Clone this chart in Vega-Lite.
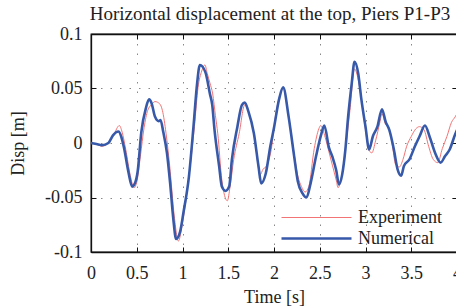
{
  "$schema": "https://vega.github.io/schema/vega-lite/v6.json",
  "width": 366,
  "height": 218,
  "autosize": "none",
  "padding": {"left": 91, "top": 34, "right": 0, "bottom": 56},
  "title": {"text": "Horizontal displacement at the top, Piers P1-P3", "font": "Liberation Serif", "fontSize": 19, "fontWeight": "normal", "color": "#222222", "anchor": "middle", "offset": 1, "dx": -4},
  "config": {
    "view": {"stroke": "#111111", "strokeWidth": 1.3},
    "font": "Liberation Serif",
    "axis": {
      "labelFont": "Liberation Serif", "labelFontSize": 18, "labelColor": "#222222",
      "titleFont": "Liberation Serif", "titleFontSize": 18, "titleFontWeight": "normal", "titleColor": "#222222",
      "domainColor": "#111111", "domainWidth": 1.3,
      "tickColor": "#111111", "tickSize": -5, "tickWidth": 1,
      "gridColor": "#888888", "gridDash": [1.5, 8], "gridWidth": 1
    }
  },
  "data": {"values": [
    {"t":0.00,"d":0.000,"series":"Experiment"},
    {"t":0.06,"d":-0.001,"series":"Experiment"},
    {"t":0.12,"d":-0.003,"series":"Experiment"},
    {"t":0.19,"d":0.000,"series":"Experiment"},
    {"t":0.25,"d":0.008,"series":"Experiment"},
    {"t":0.31,"d":0.016,"series":"Experiment"},
    {"t":0.34,"d":0.010,"series":"Experiment"},
    {"t":0.38,"d":-0.006,"series":"Experiment"},
    {"t":0.43,"d":-0.030,"series":"Experiment"},
    {"t":0.47,"d":-0.041,"series":"Experiment"},
    {"t":0.50,"d":-0.036,"series":"Experiment"},
    {"t":0.54,"d":-0.012,"series":"Experiment"},
    {"t":0.58,"d":0.014,"series":"Experiment"},
    {"t":0.62,"d":0.030,"series":"Experiment"},
    {"t":0.66,"d":0.035,"series":"Experiment"},
    {"t":0.70,"d":0.038,"series":"Experiment"},
    {"t":0.75,"d":0.036,"series":"Experiment"},
    {"t":0.78,"d":0.030,"series":"Experiment"},
    {"t":0.82,"d":0.009,"series":"Experiment"},
    {"t":0.86,"d":-0.021,"series":"Experiment"},
    {"t":0.91,"d":-0.067,"series":"Experiment"},
    {"t":0.955,"d":-0.090,"series":"Experiment"},
    {"t":1.00,"d":-0.073,"series":"Experiment"},
    {"t":1.07,"d":-0.031,"series":"Experiment"},
    {"t":1.13,"d":0.015,"series":"Experiment"},
    {"t":1.17,"d":0.051,"series":"Experiment"},
    {"t":1.21,"d":0.066,"series":"Experiment"},
    {"t":1.245,"d":0.0716,"series":"Experiment"},
    {"t":1.27,"d":0.064,"series":"Experiment"},
    {"t":1.30,"d":0.055,"series":"Experiment"},
    {"t":1.33,"d":0.045,"series":"Experiment"},
    {"t":1.36,"d":0.025,"series":"Experiment"},
    {"t":1.385,"d":0.009,"series":"Experiment"},
    {"t":1.43,"d":-0.034,"series":"Experiment"},
    {"t":1.49,"d":-0.053,"series":"Experiment"},
    {"t":1.52,"d":-0.040,"series":"Experiment"},
    {"t":1.56,"d":-0.015,"series":"Experiment"},
    {"t":1.62,"d":0.009,"series":"Experiment"},
    {"t":1.68,"d":0.035,"series":"Experiment"},
    {"t":1.72,"d":0.029,"series":"Experiment"},
    {"t":1.78,"d":0.009,"series":"Experiment"},
    {"t":1.85,"d":-0.029,"series":"Experiment"},
    {"t":1.88,"d":-0.024,"series":"Experiment"},
    {"t":1.91,"d":-0.022,"series":"Experiment"},
    {"t":1.97,"d":-0.006,"series":"Experiment"},
    {"t":2.02,"d":0.027,"series":"Experiment"},
    {"t":2.06,"d":0.042,"series":"Experiment"},
    {"t":2.10,"d":0.050,"series":"Experiment"},
    {"t":2.16,"d":0.025,"series":"Experiment"},
    {"t":2.22,"d":-0.010,"series":"Experiment"},
    {"t":2.26,"d":-0.030,"series":"Experiment"},
    {"t":2.30,"d":-0.040,"series":"Experiment"},
    {"t":2.34,"d":-0.045,"series":"Experiment"},
    {"t":2.38,"d":-0.040,"series":"Experiment"},
    {"t":2.44,"d":-0.005,"series":"Experiment"},
    {"t":2.49,"d":0.013,"series":"Experiment"},
    {"t":2.51,"d":0.016,"series":"Experiment"},
    {"t":2.56,"d":0.005,"series":"Experiment"},
    {"t":2.60,"d":-0.008,"series":"Experiment"},
    {"t":2.64,"d":-0.021,"series":"Experiment"},
    {"t":2.68,"d":-0.034,"series":"Experiment"},
    {"t":2.70,"d":-0.041,"series":"Experiment"},
    {"t":2.74,"d":-0.030,"series":"Experiment"},
    {"t":2.78,"d":-0.006,"series":"Experiment"},
    {"t":2.83,"d":0.030,"series":"Experiment"},
    {"t":2.88,"d":0.068,"series":"Experiment"},
    {"t":2.91,"d":0.062,"series":"Experiment"},
    {"t":2.955,"d":0.040,"series":"Experiment"},
    {"t":3.00,"d":0.012,"series":"Experiment"},
    {"t":3.04,"d":-0.007,"series":"Experiment"},
    {"t":3.07,"d":-0.009,"series":"Experiment"},
    {"t":3.11,"d":0.002,"series":"Experiment"},
    {"t":3.16,"d":0.020,"series":"Experiment"},
    {"t":3.18,"d":0.027,"series":"Experiment"},
    {"t":3.22,"d":0.017,"series":"Experiment"},
    {"t":3.25,"d":0.015,"series":"Experiment"},
    {"t":3.29,"d":0.000,"series":"Experiment"},
    {"t":3.33,"d":-0.020,"series":"Experiment"},
    {"t":3.37,"d":-0.022,"series":"Experiment"},
    {"t":3.41,"d":-0.015,"series":"Experiment"},
    {"t":3.45,"d":-0.003,"series":"Experiment"},
    {"t":3.50,"d":0.006,"series":"Experiment"},
    {"t":3.55,"d":0.013,"series":"Experiment"},
    {"t":3.59,"d":0.015,"series":"Experiment"},
    {"t":3.64,"d":0.012,"series":"Experiment"},
    {"t":3.69,"d":-0.003,"series":"Experiment"},
    {"t":3.74,"d":-0.015,"series":"Experiment"},
    {"t":3.79,"d":-0.018,"series":"Experiment"},
    {"t":3.84,"d":-0.005,"series":"Experiment"},
    {"t":3.89,"d":0.006,"series":"Experiment"},
    {"t":3.94,"d":0.019,"series":"Experiment"},
    {"t":3.98,"d":0.024,"series":"Experiment"},
    {"t":4.00,"d":0.027,"series":"Experiment"},
    {"t":0.00,"d":0.000,"series":"Numerical"},
    {"t":0.06,"d":-0.001,"series":"Numerical"},
    {"t":0.12,"d":-0.002,"series":"Numerical"},
    {"t":0.19,"d":0.000,"series":"Numerical"},
    {"t":0.24,"d":0.007,"series":"Numerical"},
    {"t":0.30,"d":0.0105,"series":"Numerical"},
    {"t":0.33,"d":0.006,"series":"Numerical"},
    {"t":0.36,"d":-0.004,"series":"Numerical"},
    {"t":0.41,"d":-0.027,"series":"Numerical"},
    {"t":0.45,"d":-0.040,"series":"Numerical"},
    {"t":0.48,"d":-0.037,"series":"Numerical"},
    {"t":0.51,"d":-0.026,"series":"Numerical"},
    {"t":0.55,"d":0.010,"series":"Numerical"},
    {"t":0.60,"d":0.032,"series":"Numerical"},
    {"t":0.635,"d":0.040,"series":"Numerical"},
    {"t":0.66,"d":0.037,"series":"Numerical"},
    {"t":0.70,"d":0.024,"series":"Numerical"},
    {"t":0.74,"d":0.020,"series":"Numerical"},
    {"t":0.76,"d":0.021,"series":"Numerical"},
    {"t":0.79,"d":0.010,"series":"Numerical"},
    {"t":0.83,"d":-0.009,"series":"Numerical"},
    {"t":0.865,"d":-0.037,"series":"Numerical"},
    {"t":0.90,"d":-0.070,"series":"Numerical"},
    {"t":0.93,"d":-0.088,"series":"Numerical"},
    {"t":0.975,"d":-0.081,"series":"Numerical"},
    {"t":1.01,"d":-0.064,"series":"Numerical"},
    {"t":1.07,"d":-0.031,"series":"Numerical"},
    {"t":1.12,"d":0.015,"series":"Numerical"},
    {"t":1.16,"d":0.055,"series":"Numerical"},
    {"t":1.19,"d":0.0716,"series":"Numerical"},
    {"t":1.25,"d":0.065,"series":"Numerical"},
    {"t":1.30,"d":0.045,"series":"Numerical"},
    {"t":1.325,"d":0.035,"series":"Numerical"},
    {"t":1.35,"d":0.012,"series":"Numerical"},
    {"t":1.40,"d":-0.021,"series":"Numerical"},
    {"t":1.43,"d":-0.040,"series":"Numerical"},
    {"t":1.47,"d":-0.044,"series":"Numerical"},
    {"t":1.51,"d":-0.040,"series":"Numerical"},
    {"t":1.54,"d":-0.015,"series":"Numerical"},
    {"t":1.60,"d":0.015,"series":"Numerical"},
    {"t":1.65,"d":0.035,"series":"Numerical"},
    {"t":1.68,"d":0.037,"series":"Numerical"},
    {"t":1.72,"d":0.029,"series":"Numerical"},
    {"t":1.78,"d":0.009,"series":"Numerical"},
    {"t":1.83,"d":-0.021,"series":"Numerical"},
    {"t":1.86,"d":-0.037,"series":"Numerical"},
    {"t":1.91,"d":-0.028,"series":"Numerical"},
    {"t":1.96,"d":-0.003,"series":"Numerical"},
    {"t":2.00,"d":0.014,"series":"Numerical"},
    {"t":2.055,"d":0.040,"series":"Numerical"},
    {"t":2.10,"d":0.051,"series":"Numerical"},
    {"t":2.16,"d":0.024,"series":"Numerical"},
    {"t":2.22,"d":-0.012,"series":"Numerical"},
    {"t":2.26,"d":-0.035,"series":"Numerical"},
    {"t":2.31,"d":-0.046,"series":"Numerical"},
    {"t":2.355,"d":-0.050,"series":"Numerical"},
    {"t":2.40,"d":-0.037,"series":"Numerical"},
    {"t":2.46,"d":-0.012,"series":"Numerical"},
    {"t":2.51,"d":0.006,"series":"Numerical"},
    {"t":2.55,"d":0.016,"series":"Numerical"},
    {"t":2.60,"d":-0.004,"series":"Numerical"},
    {"t":2.64,"d":-0.013,"series":"Numerical"},
    {"t":2.68,"d":-0.025,"series":"Numerical"},
    {"t":2.71,"d":-0.038,"series":"Numerical"},
    {"t":2.745,"d":-0.029,"series":"Numerical"},
    {"t":2.78,"d":-0.006,"series":"Numerical"},
    {"t":2.81,"d":0.024,"series":"Numerical"},
    {"t":2.85,"d":0.055,"series":"Numerical"},
    {"t":2.88,"d":0.0746,"series":"Numerical"},
    {"t":2.92,"d":0.064,"series":"Numerical"},
    {"t":2.955,"d":0.040,"series":"Numerical"},
    {"t":3.00,"d":0.015,"series":"Numerical"},
    {"t":3.04,"d":-0.006,"series":"Numerical"},
    {"t":3.08,"d":0.006,"series":"Numerical"},
    {"t":3.13,"d":0.015,"series":"Numerical"},
    {"t":3.18,"d":0.031,"series":"Numerical"},
    {"t":3.22,"d":0.0195,"series":"Numerical"},
    {"t":3.26,"d":0.012,"series":"Numerical"},
    {"t":3.31,"d":-0.006,"series":"Numerical"},
    {"t":3.35,"d":-0.024,"series":"Numerical"},
    {"t":3.39,"d":-0.030,"series":"Numerical"},
    {"t":3.42,"d":-0.021,"series":"Numerical"},
    {"t":3.48,"d":-0.015,"series":"Numerical"},
    {"t":3.54,"d":-0.003,"series":"Numerical"},
    {"t":3.59,"d":0.006,"series":"Numerical"},
    {"t":3.65,"d":0.016,"series":"Numerical"},
    {"t":3.70,"d":0.006,"series":"Numerical"},
    {"t":3.76,"d":-0.009,"series":"Numerical"},
    {"t":3.82,"d":-0.018,"series":"Numerical"},
    {"t":3.87,"d":-0.012,"series":"Numerical"},
    {"t":3.92,"d":-0.006,"series":"Numerical"},
    {"t":3.98,"d":0.008,"series":"Numerical"},
    {"t":4.00,"d":0.012,"series":"Numerical"}
  ]},
  "layer": [
    {
      "mark": {"type": "line", "interpolate": "monotone"},
      "encoding": {
        "x": {"field": "t", "type": "quantitative", "scale": {"domain": [0, 4], "nice": false, "zero": false},
              "axis": {"title": "Time [s]", "values": [0, 0.5, 1, 1.5, 2, 2.5, 3, 3.5, 4], "format": "~g", "labelPadding": 17, "titlePadding": 6, "labelFlush": false}},
        "y": {"field": "d", "type": "quantitative", "scale": {"domain": [-0.1, 0.1], "nice": false},
              "axis": {"title": "Disp [m]", "values": [-0.1, -0.05, 0, 0.05, 0.1], "labelExpr": "datum.value == 0 ? '0' : (datum.value < 0 ? '-' : '') + format(abs(datum.value), '.2~f')", "labelPadding": 14, "titlePadding": 17, "labelFlush": false}},
        "color": {"field": "series", "type": "nominal",
                  "scale": {"domain": ["Experiment", "Numerical"], "range": ["#f27474", "#3759aa"]},
                  "legend": {"orient": "none", "legendX": 214, "legendY": 173, "title": null, "symbolType": "M-3.5,0H3.5", "symbolSize": 400, "rowPadding": 0, "labelOffset": 30, "padding": 0, "labelFont": "Liberation Serif", "labelFontSize": 18, "labelColor": "#222222"}},
        "strokeWidth": {"field": "series", "type": "ordinal",
                  "scale": {"domain": ["Experiment", "Numerical"], "range": [1, 2.6]},
                  "legend": {"orient": "none", "legendX": 214, "legendY": 173, "title": null, "symbolType": "M-3.5,0H3.5", "symbolSize": 400, "rowPadding": 0, "labelOffset": 30, "padding": 0, "labelFont": "Liberation Serif", "labelFontSize": 18, "labelColor": "#222222"}}
      }
    },
    {
      "mark": {"type": "line", "opacity": 0},
      "encoding": {
        "x": {"field": "t", "type": "quantitative", "axis": {"orient": "top", "values": [0, 0.5, 1, 1.5, 2, 2.5, 3, 3.5, 4], "labels": false, "grid": false, "title": null}},
        "y": {"field": "d", "type": "quantitative", "axis": {"orient": "right", "values": [-0.1, -0.05, 0, 0.05, 0.1], "labels": false, "grid": false, "title": null}},
        "detail": {"field": "series"}
      }
    }
  ],
  "resolve": {"axis": {"x": "independent", "y": "independent"}}
}
